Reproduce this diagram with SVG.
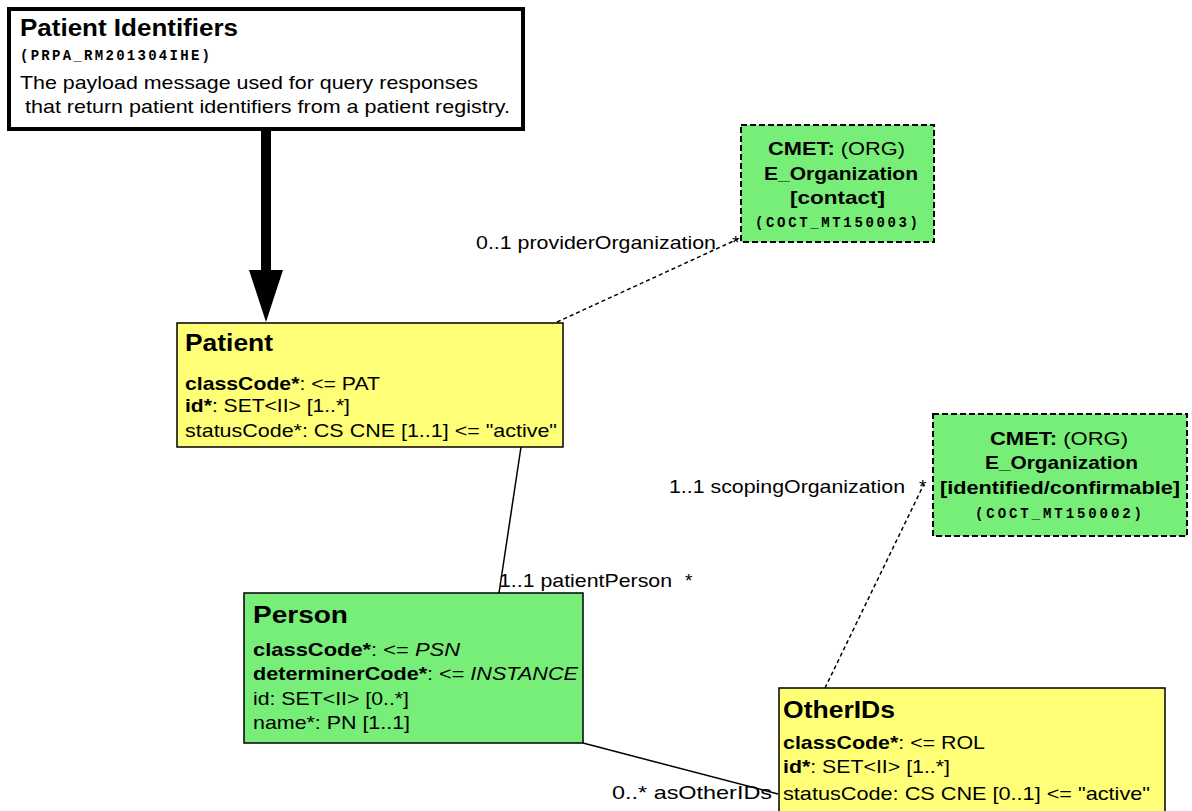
<svg xmlns="http://www.w3.org/2000/svg" width="1192" height="811" viewBox="0 0 1192 811">
<style>
text{font-family:"Liberation Sans",Arial,sans-serif;font-size:19px;fill:#000}
.b{font-weight:bold}
.i{font-style:italic}
.t{font-weight:bold;font-size:23px}
.m{font-family:"Liberation Mono","Courier New",monospace;font-size:14px;font-weight:bold}
.yel{fill:#ffff77;stroke:#000;stroke-width:1.5}
.grn{fill:#77ee77;stroke:#000;stroke-width:1.5}
.cmet{fill:#77ee77;stroke:#000;stroke-width:2;stroke-dasharray:6 3}
.sol{stroke:#000;stroke-width:1.5;fill:none}
.dash{stroke:#000;stroke-width:1.5;fill:none;stroke-dasharray:4 3}
</style>
<rect width="1192" height="811" fill="#fff"/>
<g id="connectors">
<line x1="266" y1="131" x2="266" y2="275" stroke="#000" stroke-width="10"/>
<polygon points="249,270 283,270 266,322" fill="#000"/>
<line class="dash" x1="557" y1="322" x2="738" y2="239"/>
<line class="dash" x1="825" y1="688" x2="924" y2="484"/>
<line class="sol" x1="521" y1="447" x2="499" y2="593"/>
<line class="sol" x1="583" y1="743" x2="778" y2="794"/>
<text x="476" y="249" textLength="240" lengthAdjust="spacingAndGlyphs">0..1 providerOrganization</text>
<text x="732" y="249">*</text>
<text x="669" y="493" textLength="236" lengthAdjust="spacingAndGlyphs">1..1 scopingOrganization</text>
<text x="919" y="493">*</text>
<text x="499" y="587" textLength="173" lengthAdjust="spacingAndGlyphs">1..1 patientPerson</text>
<text x="685" y="587">*</text>
<text x="612" y="799" textLength="160" lengthAdjust="spacingAndGlyphs">0..* asOtherIDs</text>
</g>
<g id="header">
<rect x="9" y="9" width="514" height="120" fill="#fff" stroke="#000" stroke-width="4"/>
<text class="t" x="20" y="36" textLength="218" lengthAdjust="spacingAndGlyphs">Patient Identifiers</text>
<text class="m" x="20" y="60" textLength="190">(PRPA_RM201304IHE)</text>
<text x="20" y="89" textLength="458" lengthAdjust="spacingAndGlyphs">The payload message used for query responses</text>
<text x="25" y="113" textLength="485" lengthAdjust="spacingAndGlyphs">that return patient identifiers from a patient registry.</text>
</g>
<g id="cmet-provider">
<rect class="cmet" x="741" y="125" width="193" height="117"/>
<text x="768" y="155" textLength="137" lengthAdjust="spacingAndGlyphs"><tspan class="b">CMET:</tspan> (ORG)</text>
<text class="b" x="764" y="180" textLength="154" lengthAdjust="spacingAndGlyphs">E_Organization</text>
<text class="b" x="790" y="204" textLength="95" lengthAdjust="spacingAndGlyphs">[contact]</text>
<text class="m" x="755" y="227" textLength="163">(COCT_MT150003)</text>
</g>
<g id="cmet-scoping">
<rect class="cmet" x="933" y="414" width="254" height="122"/>
<text x="990" y="445" textLength="138" lengthAdjust="spacingAndGlyphs"><tspan class="b">CMET:</tspan> (ORG)</text>
<text class="b" x="985" y="469" textLength="153" lengthAdjust="spacingAndGlyphs">E_Organization</text>
<text class="b" x="940" y="494" textLength="240" lengthAdjust="spacingAndGlyphs">[identified/confirmable]</text>
<text class="m" x="975" y="518" textLength="167">(COCT_MT150002)</text>
</g>
<g id="patient">
<rect class="yel" x="177" y="323" width="386" height="124"/>
<text class="t" x="185" y="351" textLength="88" lengthAdjust="spacingAndGlyphs">Patient</text>
<text x="185" y="390" textLength="195" lengthAdjust="spacingAndGlyphs"><tspan class="b">classCode*</tspan>: &lt;= PAT</text>
<text x="185" y="412" textLength="165" lengthAdjust="spacingAndGlyphs"><tspan class="b">id*</tspan>: SET&lt;II&gt; [1..*]</text>
<text x="185" y="437" textLength="372" lengthAdjust="spacingAndGlyphs">statusCode*: CS CNE [1..1] &lt;= "active"</text>
</g>
<g id="person">
<rect class="grn" x="244" y="593" width="339" height="150"/>
<text class="t" x="253" y="623" textLength="95" lengthAdjust="spacingAndGlyphs">Person</text>
<text x="253" y="656" textLength="207" lengthAdjust="spacingAndGlyphs"><tspan class="b">classCode*</tspan>: &lt;= <tspan class="i">PSN</tspan></text>
<text x="253" y="680" textLength="325" lengthAdjust="spacingAndGlyphs"><tspan class="b">determinerCode*</tspan>: &lt;= <tspan class="i">INSTANCE</tspan></text>
<text x="253" y="705" textLength="156" lengthAdjust="spacingAndGlyphs">id: SET&lt;II&gt; [0..*]</text>
<text x="253" y="729" textLength="157" lengthAdjust="spacingAndGlyphs">name*: PN [1..1]</text>
</g>
<g id="otherids">
<rect class="yel" x="779" y="688" width="386" height="140"/>
<text class="t" x="783" y="718" textLength="112" lengthAdjust="spacingAndGlyphs">OtherIDs</text>
<text x="783" y="749" textLength="202" lengthAdjust="spacingAndGlyphs"><tspan class="b">classCode*</tspan>: &lt;= ROL</text>
<text x="783" y="773" textLength="167" lengthAdjust="spacingAndGlyphs"><tspan class="b">id*</tspan>: SET&lt;II&gt; [1..*]</text>
<text x="783" y="800" textLength="367" lengthAdjust="spacingAndGlyphs">statusCode: CS CNE [0..1] &lt;= "active"</text>
</g>
</svg>
